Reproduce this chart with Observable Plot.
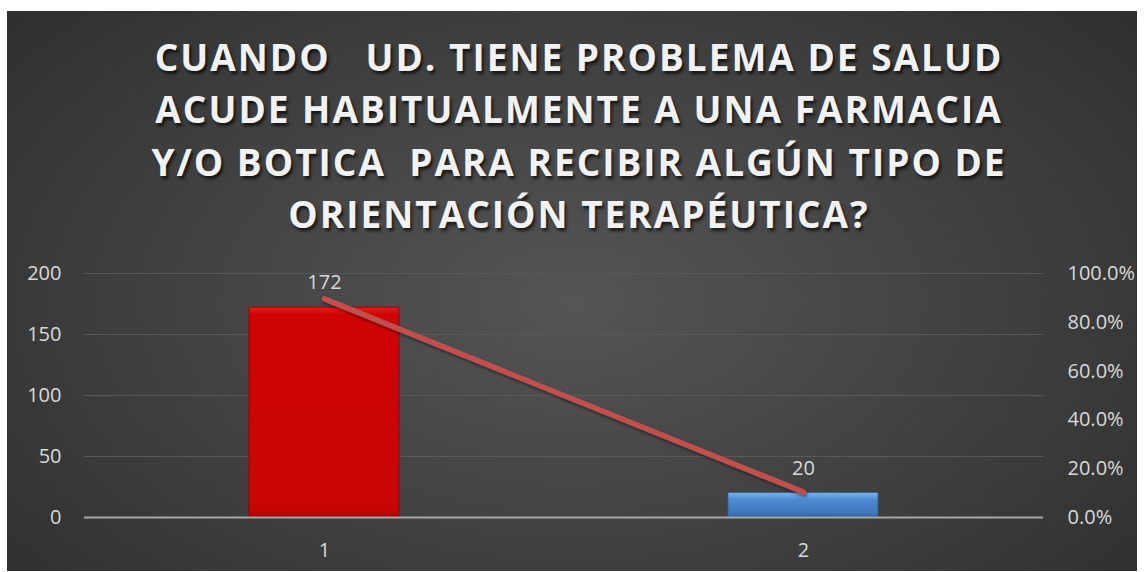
<!DOCTYPE html>
<html>
<head>
<meta charset="utf-8">
<script src="https://cdn.jsdelivr.net/npm/d3@7"></script>
<script src="https://cdn.jsdelivr.net/npm/@observablehq/plot@0.6"></script>
<style>
  html, body { margin: 0; padding: 0; background: #ffffff; }
  #panel {
    position: absolute; left: 7px; top: 11px; width: 1130px; height: 560px;
    background: radial-gradient(ellipse 75% 90% at 50% 52%, #555555 0%, #424242 45%, #2a2a2a 100%);
    overflow: hidden;
  }
  #title {
    position: absolute; left: 14px; top: 20px; width: 1116px;
    text-align: center; color: #f2f2f2;
    font-family: "Open Sans", sans-serif; font-weight: 700;
    font-size: 37px; line-height: 52.3px; letter-spacing: 2.0px;
    white-space: pre;
    text-shadow: 2px 3px 3px rgba(0,0,0,0.65);
  }
  #chart { position: absolute; left: 0; top: 239px; }
</style>
</head>
<body>
<div id="panel">
  <div id="title"></div>
  <div id="chart"></div>
</div>
<script>
const titleLines = [
  "CUANDO   UD. TIENE PROBLEMA DE SALUD",
  "ACUDE HABITUALMENTE A UNA FARMACIA",
  "Y/O BOTICA  PARA RECIBIR ALGÚN TIPO DE",
  "ORIENTACIÓN TERAPÉUTICA?"
];
const categories = ["1", "2"];
const counts = [172, 20];
const percents = [89.58, 10.42];
const barFills = ["url(#gRed)", "url(#gBlue)"];
const leftTicks = [0, 50, 100, 150, 200];
const rightTicks = [0, 20, 40, 60, 80, 100];
const rightTickLabels = ["0.0%", "20.0%", "40.0%", "60.0%", "80.0%", "100.0%"];

document.getElementById("title").textContent = titleLines.join("\n");

const data = categories.map((c, i) => ({cat: c, count: counts[i], pct: percents[i], fill: barFills[i]}));
const yMax = 200;
const pctToY = p => p / 100 * yMax;

const chart = Plot.plot({
  width: 1130,
  height: 321,
  marginTop: 23,
  marginBottom: 54,
  marginLeft: 77,
  marginRight: 94,
  style: {background: "transparent", color: "#d9d9d9", fontFamily: "'Open Sans', sans-serif", fontSize: "20px"},
  x: {domain: categories, paddingInner: 0.687, paddingOuter: 0.3435, label: null},
  y: {domain: [0, yMax], label: null},
  marks: [
    Plot.gridY(leftTicks.filter(d => d > 0), {stroke: "#595959", strokeOpacity: 1, strokeWidth: 1}),
    Plot.barY(data, {x: "cat", y: "count", fill: "fill", stroke: d => d.cat === "1" ? "#8e0000" : "#2d5c94", strokeWidth: 0.8}),
    Plot.ruleY([0], {stroke: "#a6a6a6", strokeWidth: 2}),
    Plot.line(data, {x: "cat", y: d => pctToY(d.pct), stroke: "#c0504d", strokeWidth: 5.5, strokeLinecap: "round", curve: "linear"}),
    Plot.text(data, {x: "cat", y: "count", text: d => String(d.count), dy: -25, fill: "#d9d9d9", fontSize: 20}),
    Plot.axisX({tickSize: 0, tickPadding: 25, fontSize: 20, label: null}),
    Plot.axisY({anchor: "left", ticks: leftTicks, tickSize: 0, tickPadding: 23, fontSize: 20, label: null}),
    Plot.axisY({anchor: "right", ticks: rightTicks.map(pctToY), tickSize: 0, tickPadding: 24, fontSize: 20, label: null,
      tickFormat: d => rightTickLabels[rightTicks.map(pctToY).indexOf(d)] })
  ]
});

// gradient defs for beveled bars
const ns = "http://www.w3.org/2000/svg";
const defs = document.createElementNS(ns, "defs");
defs.innerHTML = `
  <linearGradient id="gRed" x1="0" y1="0" x2="0" y2="1">
    <stop offset="0" stop-color="#f01a1a"/>
    <stop offset="0.035" stop-color="#d00404"/>
    <stop offset="0.97" stop-color="#c80505"/>
    <stop offset="1" stop-color="#a80000"/>
  </linearGradient>
  <linearGradient id="gBlue" x1="0" y1="0" x2="0" y2="1">
    <stop offset="0" stop-color="#7fb2ea"/>
    <stop offset="0.3" stop-color="#4d8ad0"/>
    <stop offset="0.8" stop-color="#3f78bd"/>
    <stop offset="1" stop-color="#2f629e"/>
  </linearGradient>
  <filter id="shadow" x="-10%" y="-10%" width="120%" height="130%">
    <feDropShadow dx="1" dy="2" stdDeviation="1.5" flood-color="#000" flood-opacity="0.5"/>
  </filter>`;
chart.insertBefore(defs, chart.firstChild);
chart.querySelectorAll("g[aria-label='line'] path").forEach(p => p.setAttribute("filter", "url(#shadow)"));
document.getElementById("chart").appendChild(chart);
</script>
</body>
</html>
